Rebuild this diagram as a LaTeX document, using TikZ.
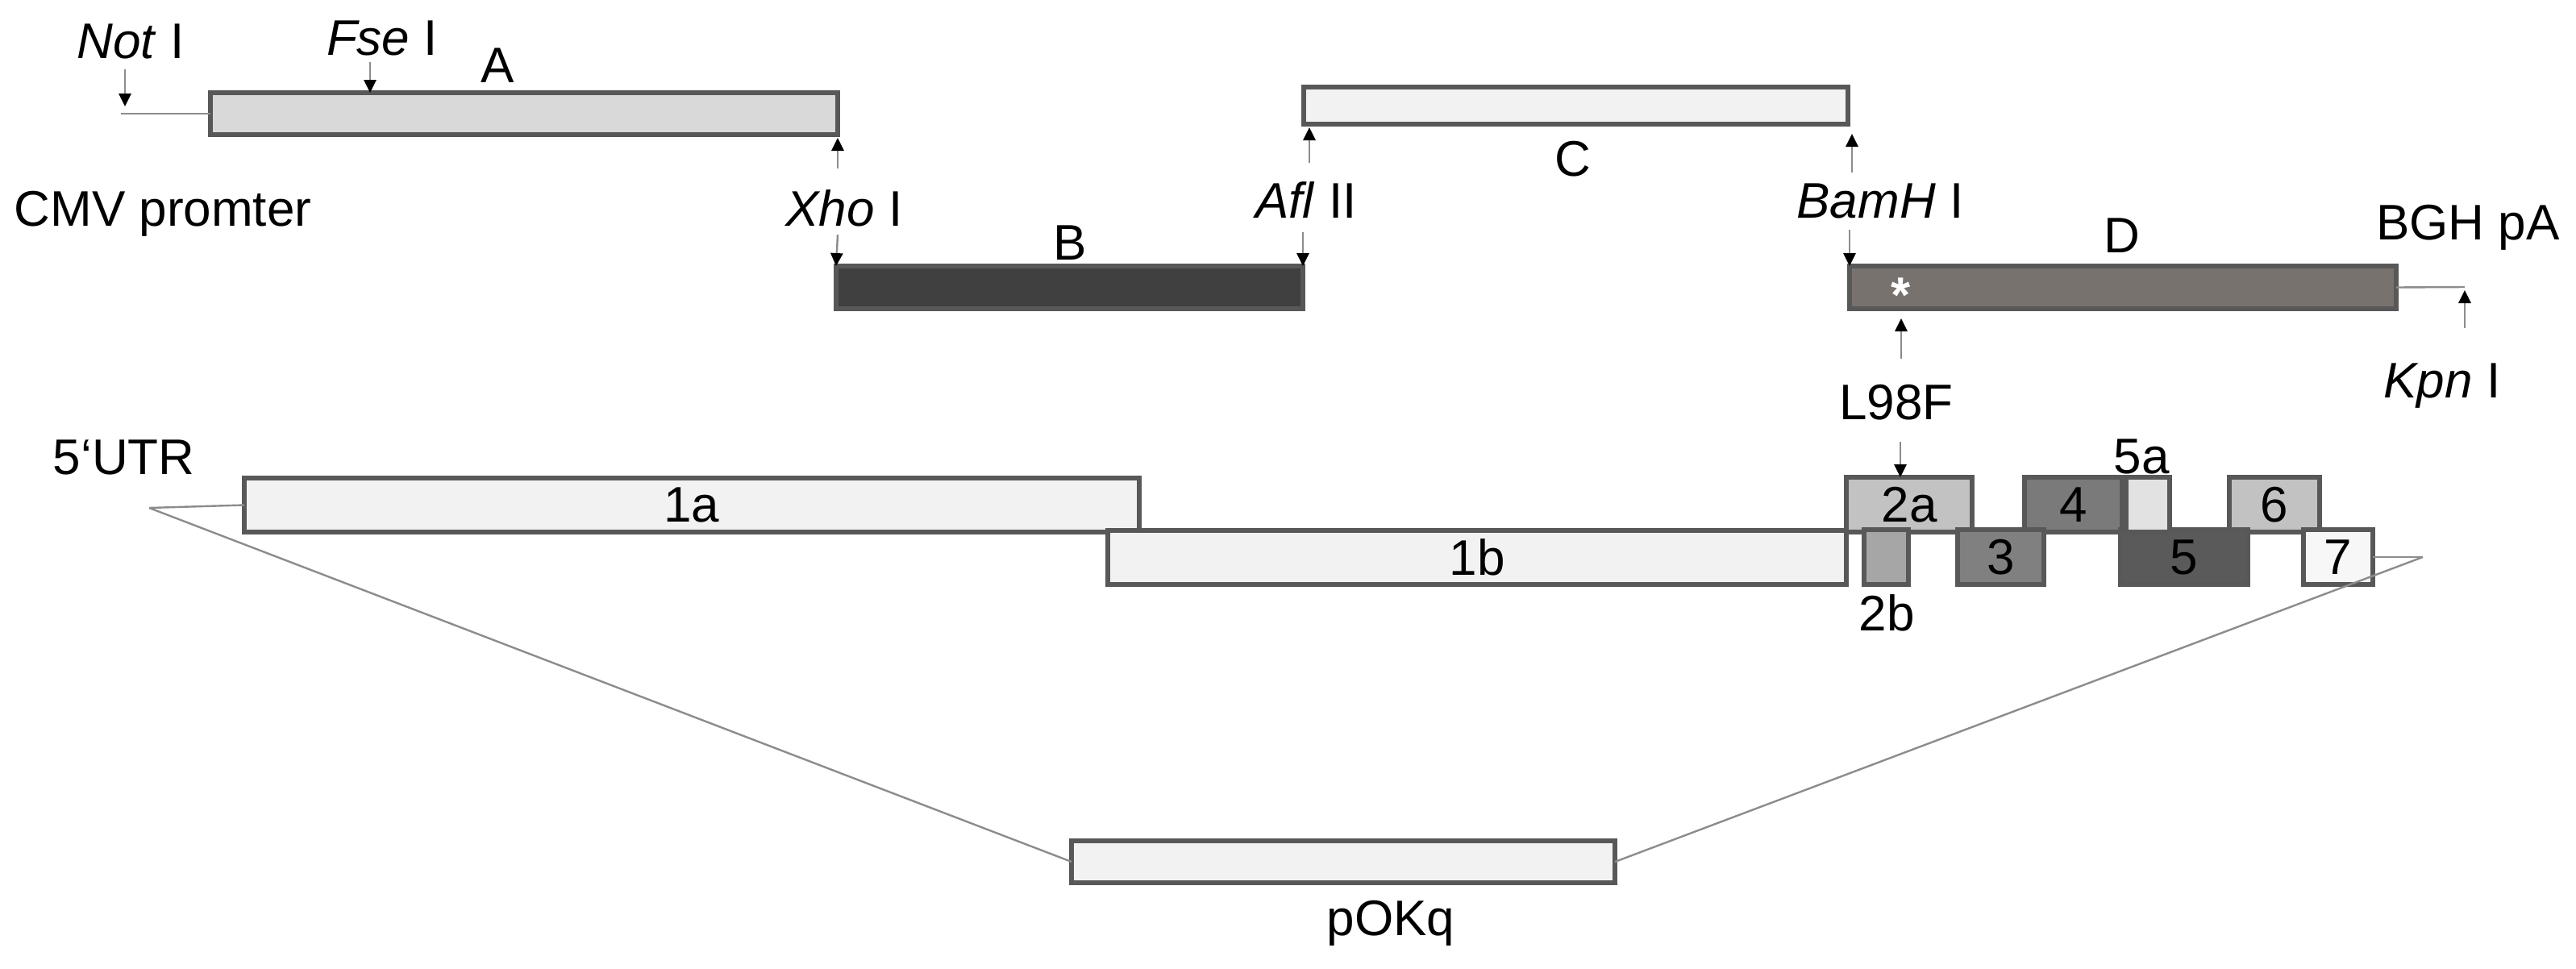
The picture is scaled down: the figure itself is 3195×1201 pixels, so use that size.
\documentclass[tikz,border=0pt]{standalone}
\usepackage{fontspec}
\setmainfont{Liberation Sans}
\usetikzlibrary{fit,arrows.meta}
\definecolor{edgec}{HTML}{585858}
\definecolor{fA}{HTML}{D9D9D9}
\definecolor{fB}{HTML}{404040}
\definecolor{fC}{HTML}{F2F2F2}
\definecolor{fD}{HTML}{78726F}
\definecolor{fLight}{HTML}{F2F2F2}
\definecolor{f2a}{HTML}{C2C2C2}
\definecolor{f2b}{HTML}{A6A6A6}
\definecolor{f3}{HTML}{808080}
\definecolor{f4}{HTML}{7A7A7A}
\definecolor{f5a}{HTML}{E2E2E2}
\definecolor{f5}{HTML}{5A5A5A}
\definecolor{f6}{HTML}{C2C2C2}
\definecolor{f7}{HTML}{F7F7F7}
\definecolor{shaft}{HTML}{8C8C8C}
\begin{document}
\begin{tikzpicture}[x=0.25pt,y=-0.25pt,
  font=\fontsize{15.5}{18}\selectfont,
  box/.style={draw=edgec, line width=1.3pt, inner sep=0pt, outer sep=0pt, rectangle},
  lbl/.style={inner sep=0pt, anchor=base},
  cut/.style={draw=shaft, line width=0.6pt, -{Triangle[length=4pt,width=3.8pt,color=black]}},
  thinline/.style={draw=shaft, line width=0.6pt}]
\useasboundingbox (0,0) rectangle (3195,1201);

% ---------- construct fragments ----------
\node[box, fill=fA, fit={(261,115) (1039,167)}] (A) {};
\node[box, fill=fC, fit={(1617,108) (2292,154)}] (C) {};
\node[box, fill=fB, fit={(1037,330) (1616,383)}] (B) {};
\node[box, fill=fD, fit={(2294,330) (2972,383)}] (D) {};
\node[inner sep=0pt, text=white, font=\fontsize{15.5}{18}\selectfont\bfseries] (star) at (2358,366) {*};

% ---------- labels ----------
\node[lbl] (notL) at (162,72) {\textit{Not} I};
\node[lbl] (fseL) at (474,68) {\textit{Fse} I};
\node[lbl] (Alab) at (617,102) {A};
\node[lbl, anchor=base west] (cmv) at (17,280) {CMV promter};
\node[lbl] (xhoL) at (1047,280) {\textit{Xho} I};
\node[lbl] (aflL) at (1620,270) {\textit{Afl} II};
\node[lbl] (Blab) at (1327,322) {B};
\node[lbl] (Clab) at (1951,218) {C};
\node[lbl] (bamL) at (2332,270) {\textit{BamH} I};
\node[lbl] (Dlab) at (2632,313) {D};
\node[lbl] (bghL) at (3061,297) {BGH pA};
\node[lbl] (kpnL) at (3029,493) {\textit{Kpn} I};
\node[lbl] (l98L) at (2352,520) {L98F};

% ---------- coordinates for arrows ----------
\coordinate (notT) at (155,86);
\coordinate (notH) at (155,132);
\coordinate (notS) at (150,141);
\coordinate (fseT) at (459,77);
\coordinate (xhoU) at (1039,209);
\coordinate (xhoD) at (1039,291);
\coordinate (aflU) at (1624,202);
\coordinate (aflD) at (1616,288);
\coordinate (bamU) at (2297,214);
\coordinate (bamD) at (2294,285);
\coordinate (l98U) at (2358,445);
\coordinate (l98D) at (2357,548);
\coordinate (kpnC) at (3057,356);
\coordinate (kpnT) at (3057,407);

\draw[cut] (notT) -- (notH);
\draw[thinline] (notS) -- (A.west);
\draw[cut] (fseT) -- (fseT |- A.north);
\draw[cut] (xhoU) -- ([yshift=-1pt]A.south east);
\draw[cut] (xhoD) -- (B.north west);
\draw[cut] (aflU) -- ([yshift=-1pt]C.south west -| aflU);
\draw[cut] (aflD) -- (B.north east);
\draw[cut] (bamU) -- ([yshift=-3pt]C.south east -| bamU);
\draw[cut] (bamD) -- (D.north west);
\draw[cut] (l98U) -- ([yshift=-3pt]D.south -| l98U);
\draw[thinline] (D.east) -- (kpnC);
\draw[cut] (kpnT) -- ([yshift=-1pt]kpnC);

% ---------- exon structure ----------
\node[box, fill=fLight, fit={(303,593) (1413,660)}, label={center:1a}] (e1a) {};
\node[box, fill=fLight, fit={(1374,658) (2290,725)}, label={center:1b}] (e1b) {};
\node[box, fill=f2a, fit={(2290,592) (2446,660)}, label={center:2a}] (e2a) {};
\node[box, fill=f4, fit={(2511,592) (2632,660)}, label={center:4}] (e4) {};
\node[box, fill=f6, fit={(2765,592) (2877,660)}, label={center:6}] (e6) {};
\node[box, fill=f2b, fit={(2312,657) (2367,725)}] (e2b) {};
\node[box, fill=f3, fit={(2428,657) (2535,725)}, label={center:3}] (e3) {};
\node[box, fill=f5, fit={(2630,657) (2788,725)}, label={center:5}] (e5) {};
\node[box, fill=f5a, fit={(2637,592) (2691,660)}] (e5a) {};
\node[box, fill=f7, fit={(2857,657) (2943,725)}, label={center:7}] (e7) {};

\node[lbl, anchor=base west] (utrL) at (65,588) {5‘UTR};
\node[lbl] (l5a) at (2656,587) {5a};
\node[lbl] (l2b) at (2340,782) {2b};
\draw[cut] (l98D) -- (l98D |- e2a.north);

% ---------- pOKq ----------
\node[box, fill=fLight, fit={(1329,1043) (2003,1095)}] (pok) {};
\node[lbl] (pokL) at (1725,1160) {pOKq};

\coordinate (tvL) at (185,630);
\coordinate (tvR) at (3005,691);
\draw[thinline] (tvL) -- (e1a.west);
\draw[thinline] (tvL) -- (pok.west);
\draw[thinline] (e7.east) -- (tvR);
\draw[thinline] (tvR) -- (pok.east);
\end{tikzpicture}
\end{document}
